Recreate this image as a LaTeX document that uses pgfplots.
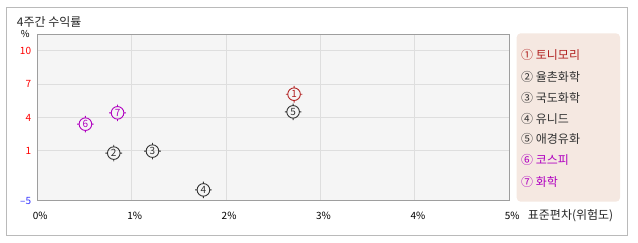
\documentclass[border=0pt]{standalone}
\usepackage{fontspec}
\setmainfont{Noto Sans CJK KR}
\usepackage{pgfplots}
\pgfplotsset{compat=1.18}
\definecolor{cRed}{HTML}{B22222}
\definecolor{cBlk}{HTML}{333333}
\definecolor{cMag}{HTML}{B000C0}
\definecolor{tRed}{HTML}{FF0000}
\definecolor{tBlue}{HTML}{3333FF}
\definecolor{legfill}{HTML}{F5E8E1}
\pgfdeclareplotmark{ringt}{%
 \pgfpathcircle{\pgfpointorigin}{6.3pt}%
 \pgfpathmoveto{\pgfpoint{0pt}{6.3pt}}\pgfpathlineto{\pgfpoint{0pt}{8.3pt}}%
 \pgfpathmoveto{\pgfpoint{0pt}{-6.3pt}}\pgfpathlineto{\pgfpoint{0pt}{-8.3pt}}%
 \pgfpathmoveto{\pgfpoint{6.3pt}{0pt}}\pgfpathlineto{\pgfpoint{8.3pt}{0pt}}%
 \pgfpathmoveto{\pgfpoint{-6.3pt}{0pt}}\pgfpathlineto{\pgfpoint{-8.3pt}{0pt}}%
 \pgfusepathqstroke}
\begin{document}
\begin{tikzpicture}[x=1pt,y=1pt]
\useasboundingbox (0,0) rectangle (638,242);
\draw[color=black!27, line width=1pt] (6.3,235) rectangle (627.3,6.7);
\node[anchor=west, inner sep=0pt, font=\fontsize{12}{12}\selectfont, text=black!85] at (16.7,220.3) {4주간 수익률};
\node[inner sep=0pt, font=\fontsize{9.5}{9}\selectfont] at (25.3,207.7) {\%};
\node[anchor=west, inner sep=0pt, font=\fontsize{12}{12}\selectfont, text=black!85] at (527.7,26) {표준편차(위험도)};
\begin{axis}[
  at={(37.3pt,41.3pt)}, anchor=south west,
  scale only axis, width=472pt, height=166.4pt,
  xmin=0, xmax=5, ymin=-5, ymax=11.5,
  y coord trafo/.code={\pgfmathparse{ifthenelse(#1<1,(#1+5)/4,1.5+(#1-1)/3)}},
  y coord inv trafo/.code={\pgfmathparse{ifthenelse(#1<1.5,4*#1-5,1+3*(#1-1.5))}},
  xtick={0,1,2,3,4,5},
  xticklabels={0\%,1\%,2\%,3\%,4\%,5\%},
  ytick={-5,1,4,7,10},
  yticklabels={\textcolor{tBlue}{–5},\textcolor{tRed}{1},\textcolor{tRed}{4},\textcolor{tRed}{7},\textcolor{tRed}{10}},
  major tick length=0pt,
  grid=major,
  major grid style={color=black!13, line width=1pt},
  axis line style={color=black!38, line width=1pt},
  axis background/.style={fill=black!4},
  tick label style={font=\fontsize{10}{10}\selectfont},
  xticklabel style={inner sep=0pt, anchor=north, yshift=-11.5pt, xshift=3pt},
  yticklabel style={inner sep=0pt, anchor=east, xshift=-6pt},
  nodes near coords,
  point meta=explicit symbolic,
  every node near coord/.style={anchor=center, inner sep=0pt, font=\fontsize{10}{10}\selectfont},
  clip=false,
]
\addplot[only marks, mark=ringt, draw=cRed, line width=0.9pt, nodes near coords style={text=cRed}]
  coordinates {(2.72,6.1)[1]};
\addplot[only marks, mark=ringt, draw=cBlk, line width=0.9pt, nodes near coords style={text=cBlk}]
  coordinates {(0.81,0.72)[2] (1.22,0.96)[3] (1.76,-3.7)[4] (2.71,4.51)[5]};
\addplot[only marks, mark=ringt, draw=cMag, line width=0.9pt, nodes near coords style={text=cMag}]
  coordinates {(0.51,3.4)[6] (0.85,4.42)[7]};
\end{axis}
\draw[fill=legfill, draw=none, rounded corners=4pt] (516.7,208.7) rectangle (620,40.3);
\begin{scope}[every node/.style={anchor=west, inner sep=0pt, font=\fontsize{12}{12}\selectfont}]
\node[text=cRed] at (521,187) {① 토니모리};
\node[text=cBlk] at (521,165.3) {② 율촌화학};
\node[text=cBlk] at (521,144.3) {③ 국도화학};
\node[text=cBlk] at (521,123) {④ 유니드};
\node[text=cBlk] at (521,103) {⑤ 애경유화};
\node[text=cMag] at (521,82) {⑥ 코스피};
\node[text=cMag] at (521,60.3) {⑦ 화학};
\end{scope}
\end{tikzpicture}
\end{document}
